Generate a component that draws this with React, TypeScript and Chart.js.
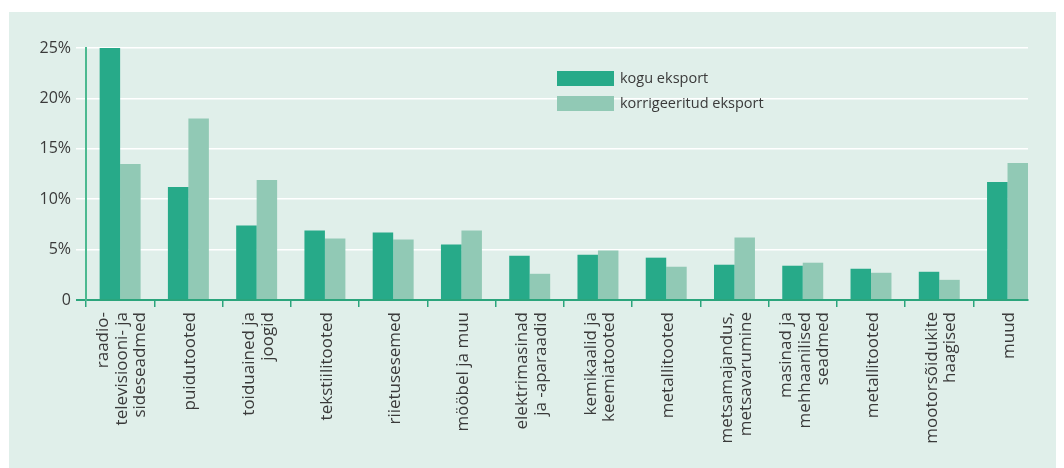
import React, { useEffect, useRef } from "react";
import { Chart, registerables } from "chart.js";

Chart.register(...registerables);

const categories: (string | string[])[] = [
  ["raadio-", "televisiooni- ja", "sideseadmed"],
  "puidutooted",
  ["toiduained ja", "joogid"],
  "tekstiilitooted",
  "riietusesemed",
  "mööbel ja muu",
  ["elektrimasinad", "ja -aparaadid"],
  ["kemikaalid ja", "keemiatooted"],
  "metallitooted",
  ["metsamajandus,", "metsavarumine"],
  ["masinad ja", "mehhaanilised", "seadmed"],
  "metallitooted",
  ["mootorsõidukite", "haagised"],
  "muud",
];

const koguEksport = [25.0, 11.2, 7.4, 6.9, 6.7, 5.5, 4.4, 4.5, 4.2, 3.5, 3.4, 3.1, 2.8, 11.7];
const korrigeeritudEksport = [13.5, 18.0, 11.9, 6.1, 6.0, 6.9, 2.6, 4.9, 3.3, 6.2, 3.7, 2.7, 2.0, 13.6];

const seriesNames = ["kogu eksport", "korrigeeritud eksport"];
const yTicks = [0, 5, 10, 15, 20, 25];

const BG = "#e0efea";
const DARK = "#27aa89";
const LIGHT = "#91c9b5";
const AXIS = "#2ba57c";
const TEXT = "#3a3a3a";
const FONT = "'Open Sans', 'DejaVu Sans', sans-serif";

const legendPlugin = {
  id: "customLegend",
  afterDraw(chart: any) {
    const ctx = chart.ctx;
    const x0 = chart.chartArea.left + 471;
    const y0 = chart.chartArea.top + 23;
    ctx.save();
    ctx.font = `14.5px ${FONT}`;
    ctx.textBaseline = "middle";
    ctx.textAlign = "left";
    chart.data.datasets.forEach((ds: any, i: number) => {
      const y = y0 + i * 25;
      ctx.fillStyle = ds.backgroundColor;
      ctx.fillRect(x0, y, 57, 15);
      ctx.fillStyle = TEXT;
      ctx.fillText(ds.label, x0 + 63, y + 8);
    });
    ctx.restore();
  },
};

const xLabelPlugin = {
  id: "xLabels",
  afterDraw(chart: any) {
    const ctx = chart.ctx;
    const xs = chart.scales.x;
    const lh = 18.5;
    ctx.save();
    ctx.font = `17px ${FONT}`;
    ctx.fillStyle = TEXT;
    ctx.textBaseline = "middle";
    categories.forEach((lab, i) => {
      const lines = Array.isArray(lab) ? lab : [lab];
      const x = xs.getPixelForValue(i) + 2;
      const y = xs.top + 12;
      ctx.save();
      ctx.translate(x, y);
      ctx.rotate(-Math.PI / 2);
      ctx.textAlign = "right";
      lines.forEach((line, j) => {
        ctx.fillText(line, 0, (j - (lines.length - 1) / 2) * lh);
      });
      ctx.restore();
    });
    ctx.restore();
  },
};

export default function App() {
  const ref = useRef<HTMLCanvasElement | null>(null);

  useEffect(() => {
    if (!ref.current) return;
    const n = categories.length;
    const chart = new Chart(ref.current, {
      type: "bar",
      data: {
        datasets: [
          {
            label: seriesNames[0],
            data: koguEksport.map((v, i) => ({ x: i, y: v })),
            backgroundColor: DARK,
            barPercentage: 1.0,
            categoryPercentage: 0.6,
          },
          {
            label: seriesNames[1],
            data: korrigeeritudEksport.map((v, i) => ({ x: i, y: v })),
            backgroundColor: LIGHT,
            barPercentage: 1.0,
            categoryPercentage: 0.6,
          },
        ],
      },
      options: {
        animation: false,
        responsive: false,
        layout: { padding: { top: 36, right: 36, left: 0, bottom: 0 } },
        plugins: {
          legend: { display: false },
          tooltip: { enabled: false },
        },
        scales: {
          x: {
            type: "linear",
            offset: false,
            min: -0.5,
            max: n - 1 + 0.3,
            afterFit: (s: any) => {
              s.height = 168;
            },
            afterBuildTicks: (s: any) => {
              s.ticks = categories.map((_, i) => ({ value: i - 0.5 }));
            },
            grid: {
              display: true,
              offset: false,
              drawOnChartArea: false,
              drawTicks: true,
              tickLength: 7,
              color: AXIS,
              lineWidth: 1.5,
            },
            border: { display: true, color: AXIS, width: 2 },
            ticks: {
              display: false,
              autoSkip: false,
            },
          },
          y: {
            min: 0,
            max: 25,
            afterFit: (s: any) => {
              s.width = 77;
            },
            afterBuildTicks: (s: any) => {
              s.ticks = yTicks.map((v) => ({ value: v }));
            },
            grid: {
              color: (c: any) => (c.tick && c.tick.value === 0 ? AXIS : "#ffffff"),
              lineWidth: (c: any) => (c.tick && c.tick.value === 0 ? 2 : 1.5),
              tickLength: 10,
              drawTicks: true,
            },
            border: { display: true, color: "#4cb990", width: 2 },
            ticks: {
              padding: 5,
              color: TEXT,
              font: { family: FONT, size: 16 },
              callback: (v: any) => (Number(v) === 0 ? "0" : `${v}%`),
            },
          },
        },
      },
      plugins: [legendPlugin, xLabelPlugin],
    });
    return () => chart.destroy();
  }, []);

  return (
    <div style={{ paddingTop: 4, paddingLeft: 1 }}>
      <div style={{ width: 1055, height: 456, background: BG }}>
        <canvas ref={ref} width={1055} height={456} style={{ display: "block" }} />
      </div>
    </div>
  );
}
